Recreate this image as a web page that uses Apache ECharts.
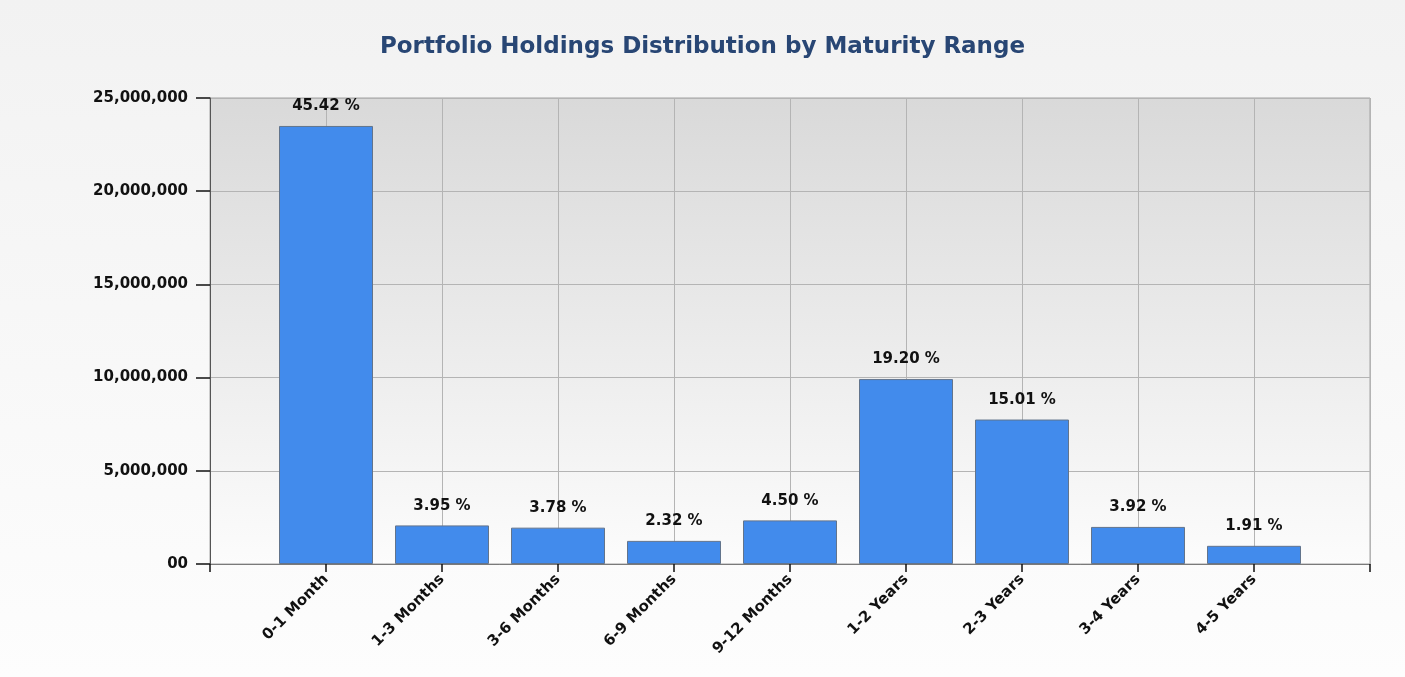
<!DOCTYPE html>
<html>
<head>
<meta charset="utf-8">
<title>Portfolio Holdings Distribution by Maturity Range</title>
<script src="https://cdn.jsdelivr.net/npm/echarts@6/dist/echarts.min.js"></script>
<style>
    html, body { margin: 0; padding: 0; width: 100%; height: 100%; background: #f6f6f6; }
    #chart { width: 1405px; height: 677px; }
</style>
</head>
<body>
<div id="chart"></div>
<script>
// Maturity buckets and holdings
const categories = ['0-1 Month', '1-3 Months', '3-6 Months', '6-9 Months', '9-12 Months',
    '1-2 Years', '2-3 Years', '3-4 Years', '4-5 Years'];
const holdings = [23500000, 2070000, 1950000, 1240000, 2340000, 9920000, 7750000, 1990000, 975000];
const pctLabels = ['45.42 %', '3.95 %', '3.78 %', '2.32 %', '4.50 %', '19.20 %', '15.01 %', '3.92 %', '1.91 %'];
const yTicks = [0, 5000000, 10000000, 15000000, 20000000, 25000000];
const yTickLabels = ['00', '5,000,000', '10,000,000', '15,000,000', '20,000,000', '25,000,000'];

const FONT = '"DejaVu Sans", Verdana, sans-serif';

// the axis has an empty slot at each end, bars sit on the inner ticks
const axisData = [''].concat(categories, ['']);
const barData = [null].concat(holdings, [null]);

const chart = echarts.init(document.getElementById('chart'), null, { renderer: 'canvas' });

const option = {
    animation: false,
    backgroundColor: {
        type: 'linear', x: 0, y: 0, x2: 0, y2: 1,
        colorStops: [{ offset: 0, color: '#f2f2f2' }, { offset: 1, color: '#fdfdfd' }]
    },
    title: {
        text: 'Portfolio Holdings Distribution by Maturity Range',
        left: 'center',
        top: 31,
        textStyle: { fontFamily: FONT, fontSize: 23, fontWeight: 'bold', color: '#284674' }
    },
    grid: {
        left: 210, right: 35, top: 98, bottom: 113,
        show: true,
        borderColor: '#a3a3a3',
        borderWidth: 1,
        backgroundColor: {
            type: 'linear', x: 0, y: 0, x2: 0, y2: 1,
            colorStops: [{ offset: 0, color: '#d9d9d9' }, { offset: 1, color: '#fcfcfc' }]
        }
    },
    xAxis: {
        type: 'category',
        data: axisData,
        boundaryGap: false,
        axisLine: { lineStyle: { color: '#7a7a7a', width: 1 } },
        axisTick: { show: true, interval: 0, length: 8, lineStyle: { color: '#111', width: 1.5 } },
        splitLine: { show: true, interval: 0, lineStyle: { color: '#b4b4b4' } },
        axisLabel: {
            interval: 0,
            rotate: 45,
            margin: 13,
            fontFamily: FONT,
            fontSize: 15,
            fontWeight: 'bold',
            color: '#111'
        }
    },
    yAxis: {
        type: 'value',
        min: 0,
        max: 25000000,
        interval: 5000000,
        axisLine: { show: true, lineStyle: { color: '#555' } },
        axisTick: { show: true, length: 14, lineStyle: { color: '#111', width: 1.5 } },
        splitLine: { lineStyle: { color: '#b4b4b4' } },
        axisLabel: {
            margin: 22,
            fontFamily: FONT,
            fontSize: 15,
            fontWeight: 'bold',
            color: '#111',
            formatter: function (v) {
                const i = yTicks.indexOf(v);
                return i >= 0 ? yTickLabels[i] : '';
            }
        }
    },
    series: [{
        type: 'bar',
        data: barData,
        barWidth: 94,
        itemStyle: { color: '#428bec', borderColor: '#62748c', borderWidth: 1 },
        label: {
            show: true,
            position: 'top',
            distance: 12,
            fontFamily: FONT,
            fontSize: 15,
            fontWeight: 'bold',
            color: '#111',
            formatter: function (p) { return pctLabels[p.dataIndex - 1]; }
        }
    }]
};

chart.setOption(option);
</script>
</body>
</html>
